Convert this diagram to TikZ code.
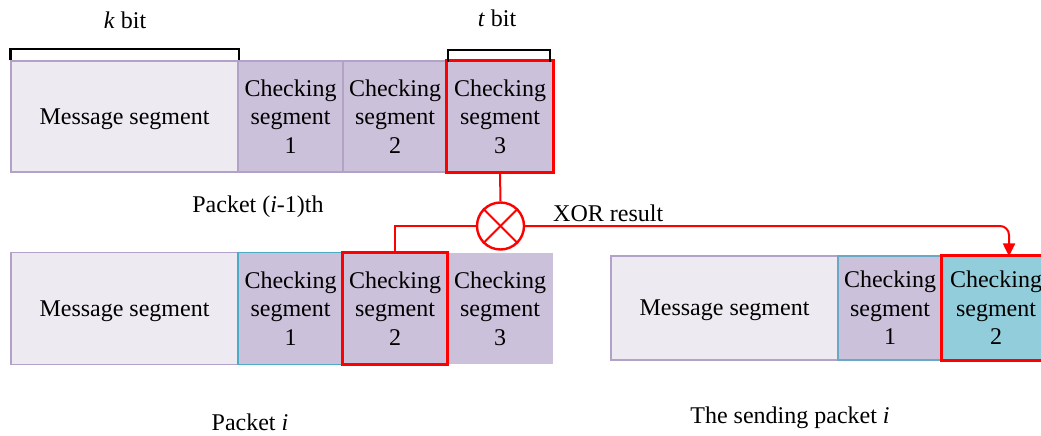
\documentclass[tikz,border=0pt]{standalone}
\usepackage{fontspec}
\setmainfont{Liberation Serif}
\usetikzlibrary{arrows.meta}
\definecolor{msgfill}{HTML}{EDEAF1}
\definecolor{msgborder}{HTML}{B3A2C7}
\definecolor{chkfill}{HTML}{CCC1DA}
\definecolor{cyanfill}{HTML}{92CDDC}
\definecolor{tealborder}{HTML}{4BACC6}
\definecolor{xred}{HTML}{FF0000}
\tikzset{
  seg/.style={rectangle, inner sep=0pt, align=center, font=\fontsize{24}{28.5}\selectfont, draw=msgborder, line width=1.2pt, text depth=-6pt},
  msgbox/.style={seg, fill=msgfill},
  chkbox/.style={seg, fill=chkfill},
  hilite/.style={draw=xred, line width=3pt},
  lbl/.style={font=\fontsize{24}{28.5}\selectfont, inner sep=0pt},
  redline/.style={draw=xred, line width=2pt},
  bracket/.style={draw=black, line width=2.2pt}
}
\begin{document}
\begin{tikzpicture}[x=1pt,y=-1pt]
\useasboundingbox (0,0) rectangle (1041,436);
% row 1
\node[msgbox, minimum width=227pt, minimum height=111pt] (m1) at (124.5,116.5) {Message segment};
\node[chkbox, minimum width=105pt, minimum height=111pt] (c11) at (290.5,116.5) {Checking\\segment\\1};
\node[chkbox, minimum width=104pt, minimum height=111pt] (c12) at (395,116.5) {Checking\\segment\\2};
\node[chkbox, minimum width=106pt, minimum height=111pt] (c13) at (500,116.5) {Checking\\segment\\3};
\draw[hilite] (c13.north west) rectangle (c13.south east);
% brackets
\draw[bracket] (m1.north west) -- ++(0,-11) -| (m1.north east);
\draw[bracket] ([xshift=1.5pt,yshift=-1.5pt]c13.north west) -- ++(0,-12) -| ([xshift=-4pt,yshift=-1.5pt]c13.north east);
\node[lbl] (kbit) at (125,20) {\textit{k} bit};
\node[lbl] (tbit) at (497,18) {\textit{t} bit};
\node[lbl] (p1) at (258,207) {Packet (\textit{i}-1)th};
% row 2
\node[msgbox, minimum width=227pt, minimum height=111.5pt] (m2) at (124.5,308.5) {Message segment};
\node[chkbox, draw=tealborder, minimum width=105pt, minimum height=111.5pt] (c21) at (290.5,308.5) {Checking\\segment\\1};
\node[chkbox, draw=none, minimum width=104pt, minimum height=111.5pt] (c22) at (395,308.5) {Checking\\segment\\2};
\node[chkbox, draw=none, minimum width=106pt, minimum height=111.5pt] (c23) at (500,308.5) {Checking\\segment\\3};
\draw[hilite] (c22.north west) rectangle (c22.south east);
\node[lbl] (p2) at (250,422) {Packet \textit{i}};
% right packet
\node[msgbox, minimum width=227pt, minimum height=104pt] (m3) at (724.5,308) {Message segment};
\node[chkbox, draw=tealborder!70!msgborder, minimum width=104pt, minimum height=104pt] (c31) at (890,308) {Checking\\segment\\1};
\node[seg, fill=cyanfill, draw=none, minimum width=108pt, minimum height=104pt] (c32) at (996,308) {Checking\\segment\\2};
\draw[hilite] (c32.north west) rectangle (c32.south east);
\node[lbl] (p3) at (790,418) {The sending packet \textit{i}};
% XOR
\node[circle, draw=xred, line width=2.4pt, minimum size=47pt, inner sep=0pt] (xor) at (500.5,226) {};
\draw[redline] (xor.north west) -- (xor.south east);
\draw[redline] (xor.north east) -- (xor.south west);
\draw[redline] (c13.south) -- (xor.north);
\draw[redline] (xor.west) -| (c22.north);
\draw[redline, rounded corners=9pt, -{Triangle[length=13pt,width=12pt]}] (xor.east) -| ([xshift=13pt,yshift=-1pt]c32.north);
\node[lbl, anchor=west] (xr) at (553,213) {XOR result};
\end{tikzpicture}
\end{document}
